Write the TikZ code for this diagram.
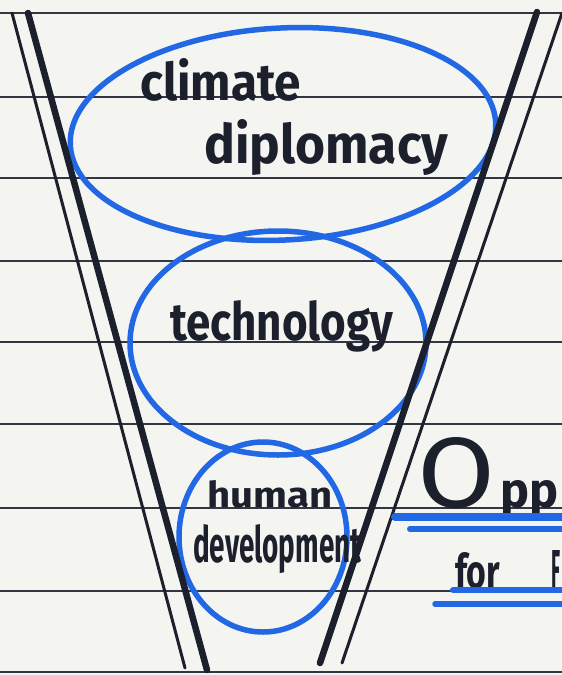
\documentclass[tikz,border=0pt]{standalone}
\usepackage{fontspec}
\setmainfont{Fira Sans}
\usetikzlibrary{shapes.geometric}
\definecolor{paper}{RGB}{244,244,241}
\definecolor{ink}{RGB}{28,32,44}
\definecolor{pen}{RGB}{34,104,228}
\begin{document}
\begin{tikzpicture}[x=1pt,y=-1pt,
  ruleline/.style={draw=ink!90, line width=1.8pt},
  funnelthick/.style={draw=ink, line width=6.5pt, line cap=round},
  funnelthin/.style={draw=ink, line width=3pt, line cap=round},
  ring/.style={draw=pen, line width=5.5pt, ellipse, inner sep=0pt},
  word/.style={text=ink, font=\bfseries, inner sep=0pt, anchor=base west},
  underline/.style={draw=pen, line cap=round}
  ]
\fill[paper] (0,0) rectangle (562,675);
\useasboundingbox (0,0) rectangle (562,675);
% notebook rules
\foreach \y in {13,97,178,261,342,424,508,591,672}
  \draw[ruleline] (-5,\y) -- (567,\y);
% rings
\node[ring, minimum width=426pt, minimum height=212pt, rotate=3] (climatering) at (283,134) {};
\node[ring, minimum width=296pt, minimum height=224pt] (techring) at (278,343) {};
\node[ring, minimum width=168pt, minimum height=190pt] (humanring) at (263,537) {};
% words
\node[word] (w1) at (140,100) {\resizebox{161pt}{42pt}{climate}};
\node[word] (w2) at (204,163) {\resizebox{244pt}{44pt}{diplomacy}};
\node[word] (w3) at (170,340) {\resizebox{223pt}{40pt}{technology}};
\node[word] (w4) at (207,507) {\resizebox{125pt}{27pt}{human}};
\node[word] (w5) at (193,562) {\resizebox{168pt}{38pt}{development}};
% funnel
\coordinate (lt1) at (12,13);  \coordinate (lb1) at (185,668);
\coordinate (lt2) at (28,13);  \coordinate (lb2) at (207,670);
\coordinate (rt1) at (537,12); \coordinate (rb1) at (320,663);
\coordinate (rt2) at (562,13); \coordinate (rb2) at (342,663);
\draw[funnelthin] (lt1) -- (lb1);
\draw[funnelthick] (lt2) -- (lb2);
\draw[funnelthick] (rt1) -- (rb1);
\draw[funnelthin] (rt2) -- (rb2);
% title on the right
\node[word] (opp) at (417,507) {{\mdseries\resizebox{78pt}{70pt}{O}}\kern5pt\resizebox*{58pt}{38pt}{pp}};
\node[word] (forf) at (455,588) {\resizebox{45pt}{36pt}{for}\hspace*{51pt}\resizebox{9pt}{38pt}{F}};
\coordinate (u1a) at (395,517); \coordinate (u1b) at (570,517);
\coordinate (u2a) at (410,529); \coordinate (u2b) at (570,529);
\coordinate (u3a) at (453,590); \coordinate (u3b) at (570,590);
\coordinate (u4a) at (435,604); \coordinate (u4b) at (570,604);
\draw[underline, line width=8pt] (u1a) -- (u1b);
\draw[underline, line width=6pt] (u2a) -- (u2b);
\draw[underline, line width=6pt] (u3a) -- (u3b);
\draw[underline, line width=5.5pt] (u4a) -- (u4b);
\end{tikzpicture}
\end{document}
